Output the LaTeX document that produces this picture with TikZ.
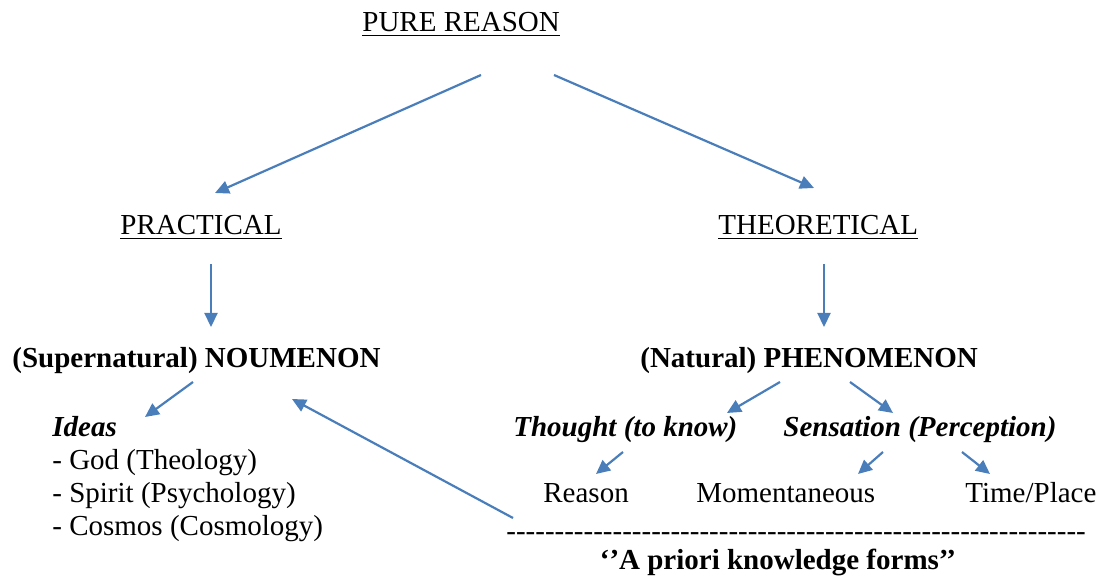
\documentclass[tikz,border=0pt]{standalone}
\usepackage{fontspec}
\setmainfont{Liberation Serif}
\usetikzlibrary{arrows.meta}
\definecolor{linkblue}{HTML}{4A7EBB}
\newcommand\dashrow{\foreach\k in {1,...,60}{-}}

\begin{document}
\begin{tikzpicture}[x=0.5pt,y=-0.5pt,
     txt/.style={inner sep=0pt,anchor=base west,font=\fontsize{14.5}{16.5}\selectfont},
     link/.style={linkblue,line width=1.1pt,-{Triangle[length=7pt,width=6.5pt]}}]
     \useasboundingbox (0,0) rectangle (1100,577);

     \node[txt] (pure) at (362,32) {\underline{PURE REASON}};
     \node[txt] (prac) at (120,235) {\underline{PRACTICAL}};
     \node[txt] (theo) at (718,235) {\underline{THEORETICAL}};

     \node[txt] (noum) at (12,368) {\textbf{(Supernatural) NOUMENON}};
     \node[txt] (phen) at (640,368) {\textbf{(Natural) PHENOMENON}};

     \node[txt] (ideas) at (52,437) {\textbf{\textit{Ideas}}};
     \node[txt] (god) at (52,470) {- God (Theology)};
     \node[txt] (spirit) at (52,503) {- Spirit (Psychology)};
     \node[txt] (cosmos) at (52,536) {- Cosmos (Cosmology)};

     \node[txt] (thought) at (513,437) {\textbf{\textit{Thought (to know)}}};
     \node[txt] (sens) at (783,437) {\textbf{\textit{Sensation (Perception)}}};
     \node[txt] (reason) at (543,503) {Reason};
     \node[txt] (moment) at (696,503) {Momentaneous};
     \node[txt] (timepl) at (965,503) {Time/Place};

     \node[txt] (dashes) at (506,541) {\dashrow};
     \node[txt,anchor=base] (forms) at (778,570) {\textbf{‘’A priori knowledge forms’{}’}};

     \coordinate (pure-l) at (481,75);
     \coordinate (pure-r) at (554,75);
     \coordinate (prac-in) at (215,193);
     \coordinate (theo-in) at (814,188);
     \coordinate (prac-out) at (211,264);
     \coordinate (theo-out) at (824,264);
     \coordinate (noum-in) at (211,327);
     \coordinate (phen-in) at (824,327);
     \coordinate (noum-out) at (193,382);
     \coordinate (ideas-in) at (145,417);
     \coordinate (dashes-out) at (513,518);
     \coordinate (noum-back) at (292,399);
     \coordinate (phen-l) at (780,382);
     \coordinate (phen-r) at (850,382);
     \coordinate (thought-in) at (727,413);
     \coordinate (sens-in) at (893,413);
     \coordinate (thought-out) at (623,452);
     \coordinate (reason-in) at (596,474);
     \coordinate (sens-l) at (883,452);
     \coordinate (sens-r) at (962,452);
     \coordinate (moment-in) at (858,474);
     \coordinate (timepl-in) at (990,474);

     \draw[link] (pure-l) -- (prac-in);
     \draw[link] (pure-r) -- (theo-in);
     \draw[link] (prac-out) -- (noum-in);
     \draw[link] (theo-out) -- (phen-in);
     \draw[link] (noum-out) -- (ideas-in);
     \draw[link] (dashes-out) -- (noum-back);
     \draw[link] (phen-l) -- (thought-in);
     \draw[link] (phen-r) -- (sens-in);
     \draw[link] (thought-out) -- (reason-in);
     \draw[link] (sens-l) -- (moment-in);
     \draw[link] (sens-r) -- (timepl-in);
\end{tikzpicture}
\end{document}
